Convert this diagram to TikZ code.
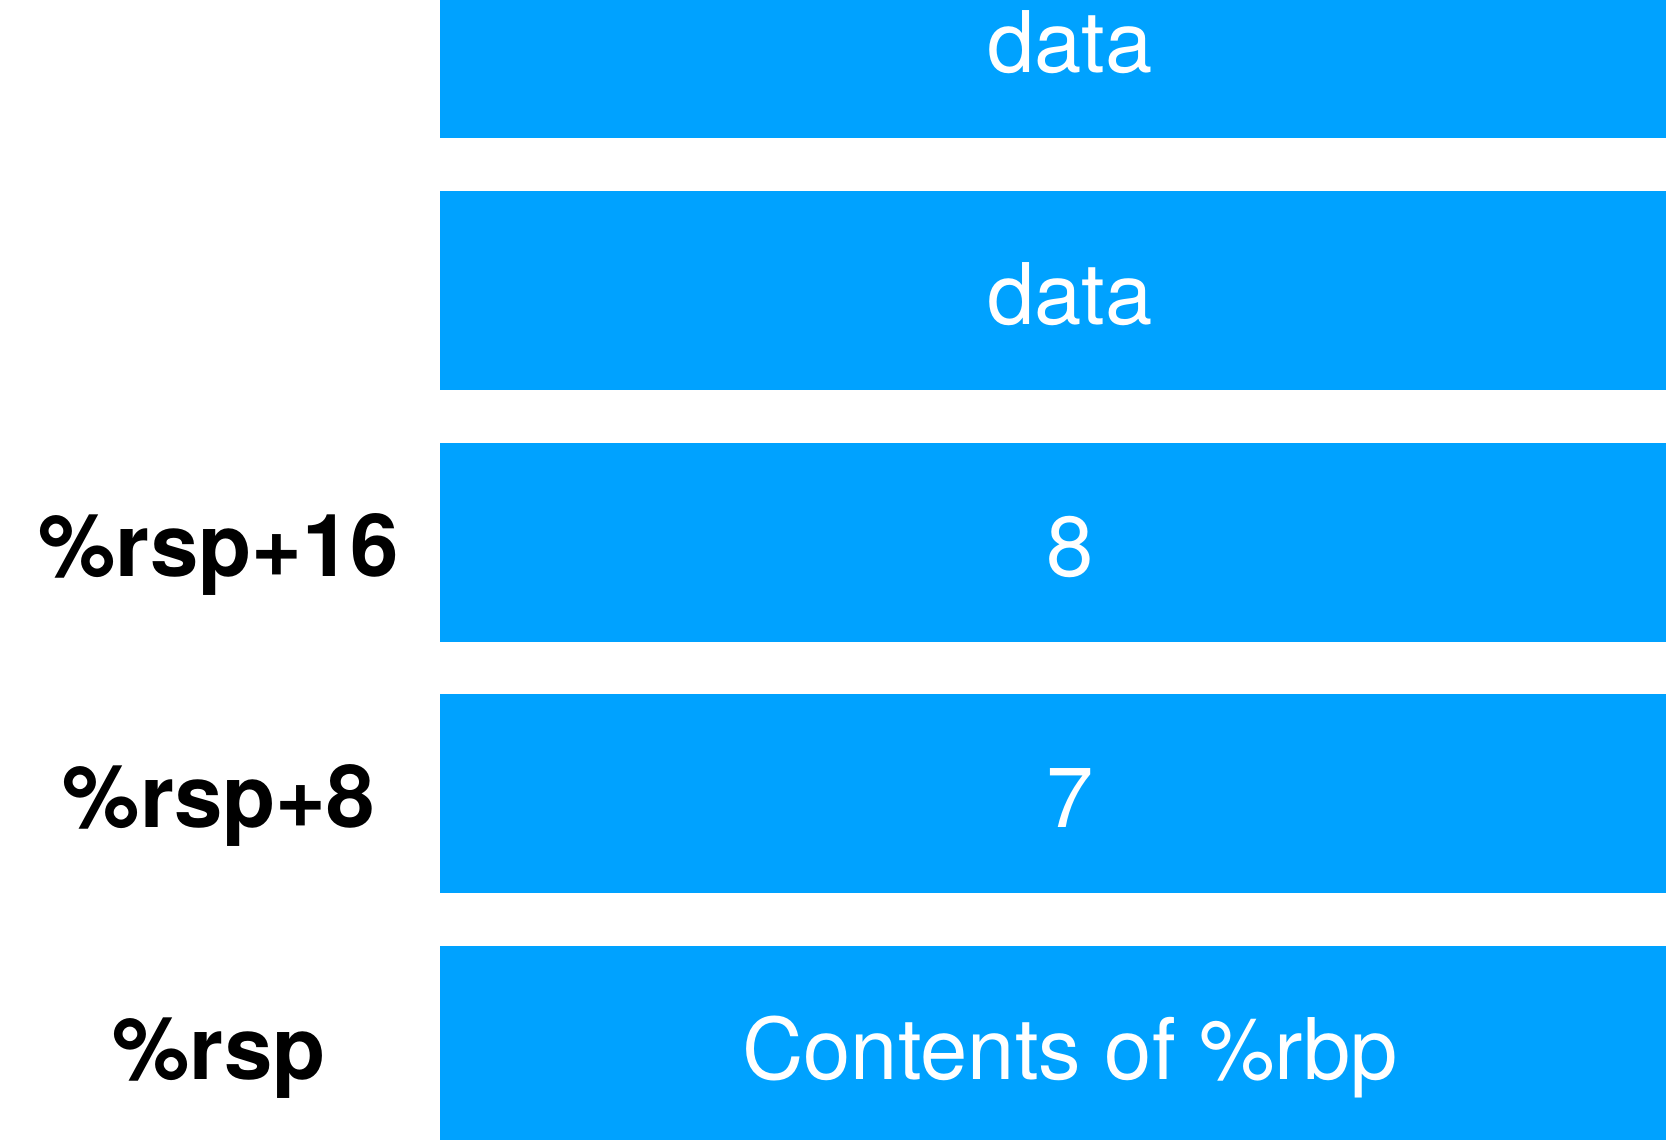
\documentclass[tikz,border=0pt]{standalone}
\usepackage{fontspec}
\setmainfont{TeX Gyre Heros}
\definecolor{cellblue}{HTML}{00A2FF}
\begin{document}
\begin{tikzpicture}[x=1pt,y=-1pt,
  cell/.style={fill=cellblue,draw=none},
  celltext/.style={anchor=base,text=white,inner sep=0pt,font=\fontsize{85}{85}\selectfont},
  addr/.style={anchor=base,text=black,inner sep=0pt,font=\fontsize{87}{87}\selectfont\bfseries}]
  \useasboundingbox (0,0) rectangle (1666,1140);
  \clip (0,0) rectangle (1666,1140);
  % stack cells, top to bottom
  \foreach \name/\top in {c1/-61,c2/191,c3/443,c4/694,c5/946}{
    \fill[cell] (440,\top) rectangle (1700,\top+199);
    \coordinate (\name) at (1070,\top+99.5+34);
    \coordinate (\name-l) at (219,\top+99.5+34);
  }
  % cell contents
  \node[celltext] (t1) at (c1) {data};
  \node[celltext] (t2) at (c2) {data};
  \node[celltext] (t3) at (c3) {8};
  \node[celltext] (t4) at (c4) {7};
  \node[celltext] (t5) at (c5) {Contents of \%rbp};
  % address labels
  \node[addr] (a3) at (c3-l) {\%rsp+16};
  \node[addr] (a4) at (c4-l) {\%rsp+8};
  \node[addr] (a5) at (c5-l) {\%rsp};
\end{tikzpicture}
\end{document}
